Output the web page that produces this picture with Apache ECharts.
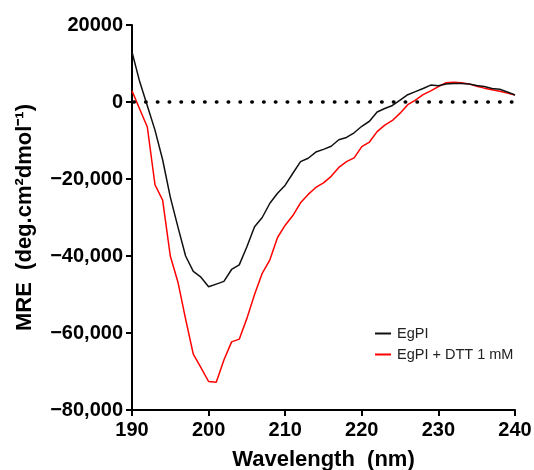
<!DOCTYPE html>
<html>
<head>
<meta charset="utf-8">
<script src="https://cdn.jsdelivr.net/npm/echarts@6/dist/echarts.min.js"></script>
<style>
  html, body { margin: 0; padding: 0; background: #fff; }
  #chart { width: 534px; height: 470px; }
</style>
</head>
<body>
<div id="chart"></div>
<script>
// wavelength (nm)
const wavelengths = [
  190, 191, 192, 193, 194, 195, 196, 197, 198, 199,
  200, 201, 202, 203, 204, 205, 206, 207, 208, 209,
  210, 211, 212, 213, 214, 215, 216, 217, 218, 219,
  220, 221, 222, 223, 224, 225, 226, 227, 228, 229,
  230, 231, 232, 233, 234, 235, 236, 237, 238, 239, 240
];

const egpi = [
  13000, 5300, -1000, -7300, -15000, -24700, -32500, -40000, -44000, -45500,
  -48000, -47300, -46600, -43500, -42300, -37600, -32400, -30000, -26300, -23700,
  -21600, -18500, -15500, -14600, -13000, -12300, -11500, -9800, -9200, -8000,
  -6300, -5000, -2600, -1700, -900, 500, 1900, 2700, 3500, 4400,
  4200, 4700, 4800, 4800, 4700, 4300, 4000, 3500, 3300, 2600, 1800
];

const egpiDtt = [
  2900, -1800, -6500, -21500, -25500, -40000, -46800, -56400, -65500, -69000,
  -72600, -72800, -67000, -62300, -61600, -56200, -50000, -44500, -41000, -35200,
  -32000, -29500, -26200, -24000, -22200, -21000, -19300, -17000, -15500, -14500,
  -11600, -10400, -7700, -6000, -4800, -2900, -700, 500, 1900, 2900,
  4000, 5000, 5100, 5000, 4700, 4100, 3600, 3200, 2800, 2300, 1800
];

const seriesNames = ["EgPI", "EgPI + DTT 1 mM"];

const pairs = (ys) => wavelengths.map((x, i) => [x, ys[i]]);

const yLabel = (v) => {
  if (v === 0) return "0";
  if (v === 20000) return "20000";
  const s = Math.abs(v).toLocaleString("en-US");
  return (v < 0 ? "\u2212" : "") + s;
};

const chart = echarts.init(document.getElementById("chart"));

const axisCommon = {
  axisLine: { show: true, onZero: false, lineStyle: { color: "#000", width: 2 } },
  axisTick: { show: true, length: 6, lineStyle: { color: "#000", width: 2 } },
  splitLine: { show: false },
  nameTextStyle: { color: "#000", fontFamily: "Liberation Sans", fontWeight: "bold", fontSize: 22 }
};

chart.setOption({
  animation: false,
  textStyle: { fontFamily: "Liberation Sans" },
  grid: { left: 132, right: 19, top: 25, bottom: 60, containLabel: false, outerBoundsMode: "none" },
  legend: {
    orient: "vertical",
    left: 370,
    top: 321,
    itemGap: 6,
    itemWidth: 16,
    itemHeight: 2,
    icon: "rect",
    textStyle: { color: "#222", fontSize: 14.5, fontFamily: "Liberation Sans", padding: [0, 0, 0, 1] },
    data: seriesNames
  },
  xAxis: Object.assign({}, axisCommon, {
    type: "value",
    min: 190,
    max: 240,
    interval: 10,
    name: "Wavelength  (nm)",
    nameLocation: "middle",
    nameGap: 39,
    axisLabel: { color: "#000", fontWeight: "bold", fontSize: 20, margin: 10 }
  }),
  yAxis: Object.assign({}, axisCommon, {
    type: "value",
    min: -80000,
    max: 20000,
    interval: 20000,
    name: "MRE  (deg.cm\u00b2dmol\u207b\u00b9)",
    nameLocation: "middle",
    nameGap: 96,
    axisLabel: { color: "#000", fontWeight: "bold", fontSize: 20, margin: 9, formatter: yLabel }
  }),
  series: [
    {
      name: seriesNames[0],
      type: "line",
      data: pairs(egpi),
      symbol: "none",
      z: 3,
      lineStyle: { color: "#111", width: 1.5 },
      itemStyle: { color: "#111" },
      markLine: {
        silent: true,
        symbol: "none",
        label: { show: false },
        lineStyle: { color: "#000", width: 3.5, type: [0.5, 11.3], dashOffset: 10, cap: "round" },
        data: [[{ coord: [190, 0] }, { coord: [240, 0] }]]
      }
    },
    {
      name: seriesNames[1],
      type: "line",
      data: pairs(egpiDtt),
      symbol: "none",
      z: 2,
      lineStyle: { color: "#ff0000", width: 1.5 },
      itemStyle: { color: "#ff0000" }
    }
  ]
});
</script>
</body>
</html>
